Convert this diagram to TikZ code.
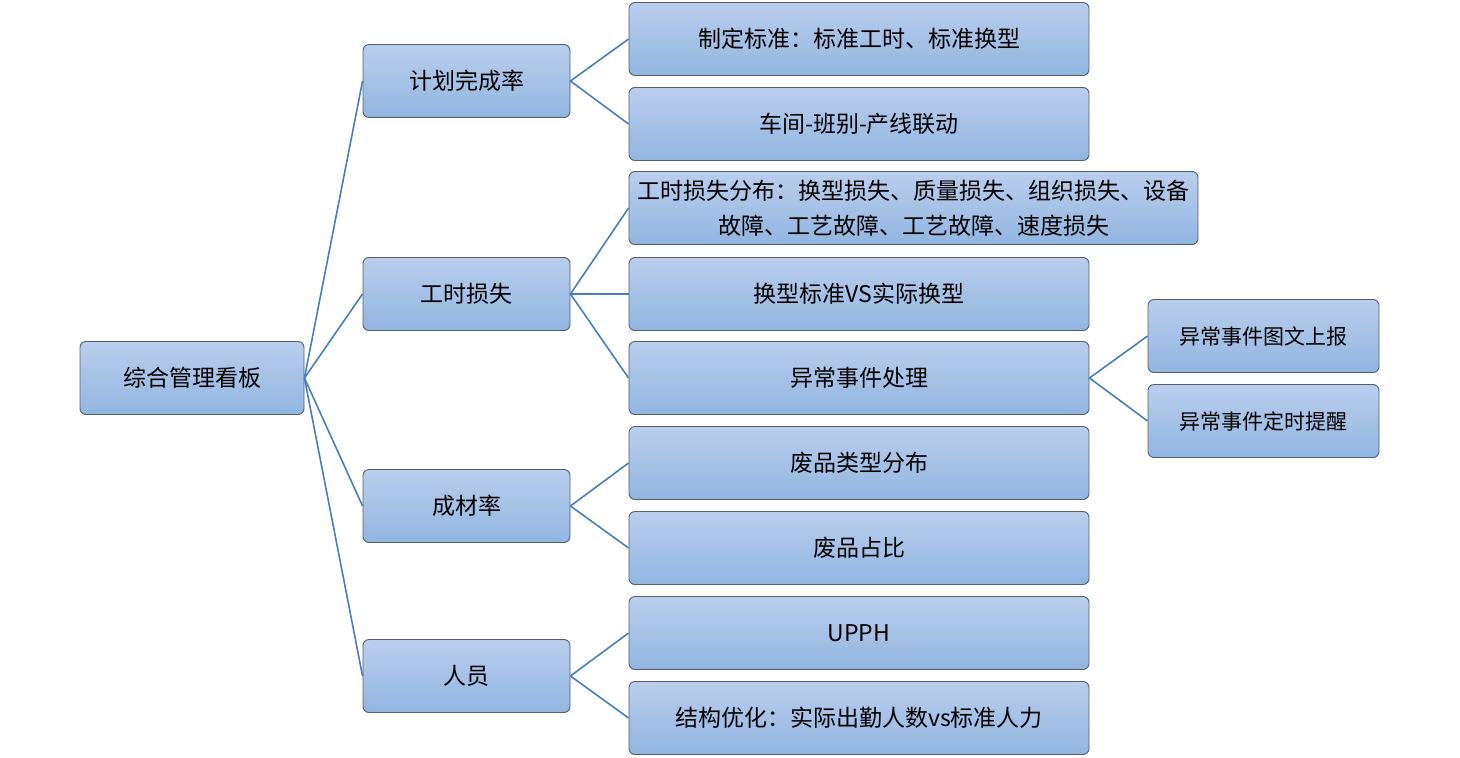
\documentclass[tikz,border=0pt]{standalone}
\usepackage{fontspec}
\setmainfont{Noto Sans CJK SC}
\usetikzlibrary{positioning}
\definecolor{boxtop}{RGB}{186,206,236}
\definecolor{boxbot}{RGB}{146,181,225}
\definecolor{boxline}{RGB}{84,94,112}
\definecolor{linkblue}{RGB}{74,126,182}

\begin{document}
\begin{tikzpicture}[x=1pt,y=-1pt,
	box/.style={draw=boxline, line width=0.9pt, rounded corners=6pt, top color=boxtop, bottom color=boxbot, inner sep=0pt, minimum height=73pt, font=\fontsize{23}{35}\selectfont, align=center},
	rootbox/.style={box, minimum width=224pt},
	catbox/.style={box, minimum width=207pt},
	itembox/.style={box, minimum width=460pt},
	subbox/.style={box, minimum width=231pt, font=\fontsize{21}{26}\selectfont},
	link/.style={draw=linkblue, line width=1.6pt}]
	\useasboundingbox (0,0) rectangle (1460,758);
	% left part
	\node[rootbox] (board) at (192,378) {综合管理看板};
	\node[catbox] (plan) at (466.5,81) {计划完成率};
	\node[catbox] (loss) at (466.5,294) {工时损失};
	\node[catbox] (yield) at (466.5,506) {成材率};
	\node[catbox] (staff) at (466.5,676) {人员};
	% right part
	\node[itembox] (std) at (859,39) {制定标准：标准工时、标准换型};
	\node[itembox] (link) at (859,124) {车间-班别-产线联动};
	\node[box, minimum width=569pt] (dist) at (913.5,208) {工时损失分布：换型损失、质量损失、组织损失、设备\\故障、工艺故障、工艺故障、速度损失};
	\node[itembox] (change) at (859,294) {换型标准VS实际换型};
	\node[itembox] (abn) at (859,378) {异常事件处理};
	\node[itembox] (scrap) at (859,463) {废品类型分布};
	\node[itembox] (ratio) at (859,548) {废品占比};
	\node[itembox] (upph) at (859,633) {UPPH};
	\node[itembox] (struct) at (859,718) {结构优化：实际出勤人数vs标准人力};
	\node[subbox] (report) at (1263.5,336) {异常事件图文上报};
	\node[subbox] (remind) at (1263.5,421) {异常事件定时提醒};
	% connectors
	\foreach \c in {plan,loss,yield,staff}
		\draw[link] (board.east) -- (\c.west);
	\foreach \c in {std,link}
		\draw[link] (plan.east) -- (\c.west);
	\foreach \c in {dist,change,abn}
		\draw[link] (loss.east) -- (\c.west);
	\foreach \c in {scrap,ratio}
		\draw[link] (yield.east) -- (\c.west);
	\foreach \c in {upph,struct}
		\draw[link] (staff.east) -- (\c.west);
	\foreach \c in {report,remind}
		\draw[link] (abn.east) -- (\c.west);
\end{tikzpicture}
\end{document}
